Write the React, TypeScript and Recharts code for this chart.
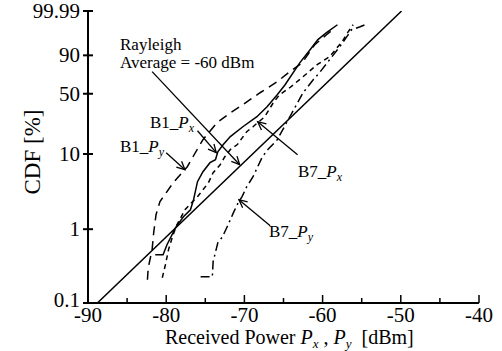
import React from "react";
import { LineChart, Line, XAxis, YAxis, ReferenceLine } from "recharts";

// values: received power [dBm] and CDF [%]
const b1PxDbm = [-81.4, -80.4, -79.9, -78.8, -77.8, -76.9, -76.5, -76.0, -75.3, -74.4, -73.7, -73.4, -72.7, -71.8, -70.2, -68.4, -67.1, -65.8, -64.8, -62.9, -61.6, -60.6, -59.5, -58.1];
const b1PxCdf = [0.451, 0.451, 0.617, 1.05, 1.47, 1.83, 2.5, 4.34, 5.88, 7.72, 8.44, 10.7, 13.2, 16.6, 21.9, 28.7, 37.0, 49.0, 60.1, 84.0, 93.6, 97.7, 99.07, 99.75];

const b1PyDbm = [-82.4, -82.3, -81.8, -81.6, -81.3, -80.8, -79.1, -77.3, -76.5, -75.3, -73.5, -71.8, -70.2, -68.0, -65.8, -64.2, -62.6, -61.0, -59.5, -58.4];
const b1PyCdf = [0.207, 0.3, 0.53, 0.9, 1.57, 2.35, 4.2, 6.84, 9.5, 15.2, 24.5, 31.8, 38.9, 51.1, 63.6, 74.9, 84.0, 96.0, 98.76, 99.58];

const b7PxDbm = [-80.5, -80.1, -79.7, -79.2, -78.7, -77.6, -76.9, -76.0, -75.3, -74.6, -74.0, -73.1, -72.5, -71.8, -70.9, -69.7, -68.9, -67.4, -66.3, -65.5, -64.2, -62.5, -60.7, -59.1, -57.5, -56.8, -56.1];
const b7PxCdf = [0.22, 0.33, 0.53, 0.79, 1.11, 1.83, 2.2, 2.74, 3.39, 4.2, 5.7, 7.27, 9.23, 11.4, 13.2, 19.1, 21.9, 28.7, 40.8, 49.0, 56.7, 69.3, 82.1, 89.0, 97.1, 99.07, 99.75];

const b7PyDbm = [-75.6, -74.1, -74.0, -73.4, -72.8, -72.2, -71.4, -70.8, -70.3, -69.7, -68.9, -68.3, -67.7, -67.0, -65.8, -64.4, -63.2, -62.5, -61.2, -60.4, -59.1, -57.8, -56.9, -56.3, -55.2, -54.2];
const b7PyCdf = [0.227, 0.227, 0.363, 0.656, 0.79, 1.08, 1.67, 2.27, 2.74, 3.72, 5.05, 6.84, 9.23, 11.4, 15.2, 26.5, 40.8, 51.1, 65.9, 73.8, 86.6, 95.1, 98.4, 99.41, 99.64, 99.8];

// theoretical Rayleigh line (average -60 dBm), end points
const rayleighDbm = [-88.8, -49.9];
const rayleighCdf = [0.1, 99.99];

const xTicks = [-90, -85, -80, -75, -70, -65, -60, -55, -50, -45, -40];
const yTickCdf = [0.1, 1, 10, 50, 90, 99.99];
const yTickLabels = ["0.1", "1", "10", "50", "90", "99.99"];

// Rayleigh probability paper: log10(-ln(1 - F))
const toAxis = (p: number) => Math.log10(-Math.log(1 - p / 100));

const series = (dbm: number[], cdf: number[]) =>
  dbm.map((x, i) => ({ x, y: toAxis(cdf[i]) }));

const b1Px = series(b1PxDbm, b1PxCdf);
const b1Py = series(b1PyDbm, b1PyCdf);
const b7Px = series(b7PxDbm, b7PxCdf);
const b7Py = series(b7PyDbm, b7PyCdf);
const rayleigh = series(rayleighDbm, rayleighCdf);

const yTicks = yTickCdf.map(toAxis);

// pointer arrows [dBm, CDF%] -> [dBm, CDF%]
const arrows = [
  { from: [-81.8, 74.9], to: [-70.6, 7.27] },
  { from: [-76.0, 19.6], to: [-73.6, 10.4] },
  { from: [-80.0, 10.4], to: [-77.6, 6.25] },
  { from: [-63.2, 9.8], to: [-68.3, 25.1] },
  { from: [-66.7, 1.11], to: [-70.7, 2.5] },
];

const serif = "'Liberation Serif', 'Times New Roman', serif";

const BottomTick = (props: any) => {
  const { x, y, payload } = props;
  const major = payload.value % 10 === 0;
  return (
    <g>
      <line x1={x} y1={y} x2={x} y2={y - (major ? 8 : 5)} stroke="#000" strokeWidth={1.5} />
      {major && (
        <text x={x} y={y + 19} textAnchor="middle" fontSize={21} fontFamily={serif} fill="#000">
          {payload.value}
        </text>
      )}
    </g>
  );
};

const TopTick = (props: any) => {
  const { x, y, payload } = props;
  const major = payload.value % 10 === 0;
  return <line x1={x} y1={y} x2={x} y2={y + (major ? 8 : 5)} stroke="#000" strokeWidth={1.5} />;
};

const LeftTick = (props: any) => {
  const { x, y, index } = props;
  // lowest label sits a little higher so it clears the -90 label
  const dy = index === 0 ? 4 : 7;
  return (
    <g>
      <line x1={x - 5} y1={y} x2={x + 5} y2={y} stroke="#000" strokeWidth={2} />
      <text x={x - 8} y={y + dy} textAnchor="end" fontSize={21} fontFamily={serif} fill="#000">
        {yTickLabels[index]}
      </text>
    </g>
  );
};

const Arrow = (props: any) => {
  const { x1, y1, x2, y2 } = props;
  const a = Math.atan2(y2 - y1, x2 - x1);
  const len = 9;
  const p1 = [x2 - len * Math.cos(a - 0.45), y2 - len * Math.sin(a - 0.45)];
  const p2 = [x2 - len * Math.cos(a + 0.45), y2 - len * Math.sin(a + 0.45)];
  return (
    <g>
      <line x1={x1} y1={y1} x2={x2} y2={y2} stroke="#000" strokeWidth={1.3} />
      <polyline points={`${p1[0]},${p1[1]} ${x2},${y2} ${p2[0]},${p2[1]}`} fill="none" stroke="#000" strokeWidth={1.3} />
    </g>
  );
};

const Label = ({ x, y, name, sub }: { x: number; y: number; name: string; sub: string }) => (
  <text x={x} y={y} fontSize={17}>
    {name}
    <tspan fontStyle="italic">P</tspan>
    <tspan fontStyle="italic" fontSize={12} dy={4}>{sub}</tspan>
  </text>
);

export default function App() {
  return (
    <div style={{ position: "absolute", left: 0, top: 0, width: 502, height: 351, background: "#fff" }}>
      <LineChart width={502} height={351} margin={{ top: 11, right: 23, left: 0, bottom: 0 }}>
        <XAxis
          dataKey="x"
          type="number"
          domain={[-90, -40]}
          ticks={xTicks}
          interval={0}
          height={48}
          tickSize={0}
          tickMargin={0}
          tick={<BottomTick />}
          axisLine={{ stroke: "#000", strokeWidth: 2 }}
          allowDataOverflow
        />
        <XAxis
          xAxisId="top"
          orientation="top"
          type="number"
          domain={[-90, -40]}
          ticks={xTicks}
          interval={0}
          height={0}
          tickSize={0}
          tickMargin={0}
          tick={<TopTick />}
          axisLine={{ stroke: "#000", strokeWidth: 2 }}
          allowDataOverflow
        />
        <YAxis
          type="number"
          domain={[toAxis(0.1), toAxis(99.99)]}
          ticks={yTicks}
          interval={0}
          width={88}
          tickSize={0}
          tickMargin={0}
          tick={<LeftTick />}
          axisLine={{ stroke: "#000", strokeWidth: 2 }}
          allowDataOverflow
        />
        <Line data={rayleigh} dataKey="y" type="linear" stroke="#000" strokeWidth={1.5} dot={false} isAnimationActive={false} />
        <Line data={b1Px} dataKey="y" type="linear" stroke="#000" strokeWidth={1.5} dot={false} isAnimationActive={false} />
        <Line data={b1Py} dataKey="y" type="linear" stroke="#000" strokeWidth={1.5} strokeDasharray="9 6" dot={false} isAnimationActive={false} />
        <Line data={b7Px} dataKey="y" type="linear" stroke="#000" strokeWidth={1.5} strokeDasharray="5 4" dot={false} isAnimationActive={false} />
        <Line data={b7Py} dataKey="y" type="linear" stroke="#000" strokeWidth={1.5} strokeDasharray="9 4 2 4" dot={false} isAnimationActive={false} />
        {arrows.map((a, i) => (
          <ReferenceLine
            key={i}
            segment={[
              { x: a.from[0], y: toAxis(a.from[1]) },
              { x: a.to[0], y: toAxis(a.to[1]) },
            ]}
            ifOverflow="visible"
            shape={Arrow}
          />
        ))}
      </LineChart>
      <svg width={502} height={351} style={{ position: "absolute", left: 0, top: 0, pointerEvents: "none" }} fontFamily={serif} fill="#000">
        <text x={120} y={50} fontSize={17}>Rayleigh</text>
        <text x={120} y={68} fontSize={17}>Average = -60 dBm</text>
        <Label x={150} y={128} name="B1_" sub="x" />
        <Label x={120} y={152} name="B1_" sub="y" />
        <Label x={298} y={177} name="B7_" sub="x" />
        <Label x={269} y={237} name="B7_" sub="y" />
        <text transform="translate(40,152) rotate(-90)" textAnchor="middle" fontSize={23}>CDF [%]</text>
        <text x={165} y={344} fontSize={20}>
          Received Power <tspan fontStyle="italic">P</tspan>
          <tspan fontStyle="italic" fontSize={13} dy={4}>x</tspan>
          <tspan dy={-4}>{"\u00a0,\u00a0"}</tspan>
          <tspan fontStyle="italic">P</tspan>
          <tspan fontStyle="italic" fontSize={13} dy={4}>y</tspan>
          <tspan dy={-4}>{"\u00a0\u00a0[dBm]"}</tspan>
        </text>
      </svg>
    </div>
  );
}
